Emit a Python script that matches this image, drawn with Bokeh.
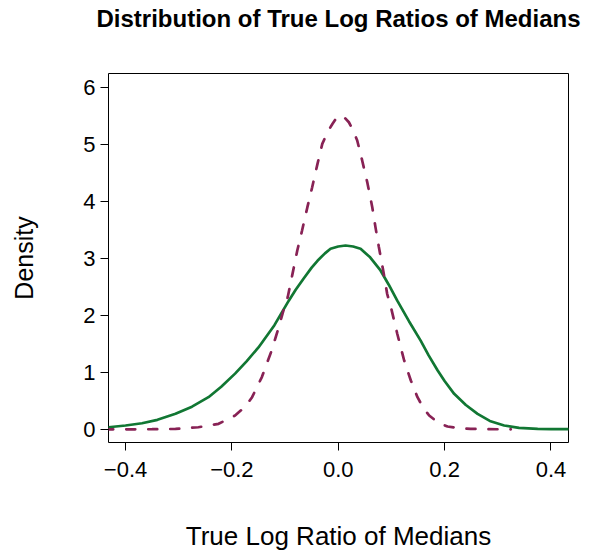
from bokeh.plotting import figure
from bokeh.models import Range1d, FixedTicker, Title
from bokeh.embed import file_html
from bokeh.resources import INLINE

# Solid green density
green_x = [-0.46, -0.432, -0.40, -0.369, -0.34, -0.306, -0.275, -0.244, -0.22, -0.194,
           -0.172, -0.150, -0.12, -0.093, -0.08, -0.065, -0.05, -0.039, -0.025, -0.0145,
           0.0, 0.0137, 0.028, 0.042, 0.06, 0.0795, 0.095, 0.111, 0.133, 0.155,
           0.17, 0.187, 0.2, 0.218, 0.24, 0.262, 0.285, 0.312, 0.34, 0.375,
           0.40, 0.433, 0.46]
green_y = [0.025, 0.04, 0.07, 0.11, 0.17, 0.275, 0.40, 0.567, 0.75, 0.98,
           1.20, 1.44, 1.83, 2.26, 2.45, 2.65, 2.84, 2.96, 3.09, 3.17,
           3.21, 3.228, 3.21, 3.17, 3.02, 2.79, 2.54, 2.26, 1.90, 1.56,
           1.30, 1.035, 0.85, 0.626, 0.43, 0.275, 0.15, 0.07, 0.03, 0.012,
           0.007, 0.005, 0.004]

# Dashed wine density
wine_x = [-0.44, -0.40, -0.35, -0.306, -0.263, -0.225, -0.194, -0.175, -0.162, -0.1436,
          -0.125, -0.112, -0.103, -0.095, -0.086, -0.077, -0.068, -0.058, -0.049, -0.039,
          -0.030, -0.020, -0.011, -0.003, 0.0043, 0.012, 0.02, 0.028, 0.0357, 0.045,
          0.0545, 0.064, 0.070, 0.0764, 0.0857, 0.092, 0.099, 0.111, 0.124, 0.1365,
          0.149, 0.16, 0.171, 0.188, 0.2055, 0.225, 0.249, 0.28, 0.3245]
wine_y = [0.003, 0.003, 0.005, 0.01, 0.04, 0.10, 0.245, 0.40, 0.567, 0.92,
          1.39, 1.79, 2.09, 2.32, 2.73, 3.14, 3.49, 3.90, 4.25, 4.66,
          5.01, 5.22, 5.36, 5.47, 5.51, 5.47, 5.39, 5.25, 5.07, 4.72,
          4.34, 3.90, 3.55, 3.20, 2.73, 2.38, 2.15, 1.68, 1.21, 0.86,
          0.567, 0.38, 0.245, 0.12, 0.053, 0.025, 0.012, 0.006, 0.003]

x_ticks = [-0.4, -0.2, 0.0, 0.2, 0.4]
x_tick_labels = ["\u22120.4", "\u22120.2", "0.0", "0.2", "0.4"]
y_ticks = [0, 1, 2, 3, 4, 5, 6]
title_text = "Distribution of True Log Ratios of Medians"

FONT = "Liberation Sans"

p = figure(width=586, height=536, frame_width=460, frame_height=369,
           min_border_left=108, min_border_right=18, min_border_top=73, min_border_bottom=94,
           x_range=Range1d(-0.432, 0.433), y_range=Range1d(-0.228, 6.245),
           output_backend="svg", toolbar_location=None)

# real title (outermost in the above panel)
p.title.text = title_text
p.title.align = "center"
p.title.vertical_align = "bottom"
p.title.standoff = 0
p.title.text_font = FONT
p.title.text_font_size = "24px"
p.title.text_font_style = "bold"
p.title.text_color = "black"

# invisible spacer between the title and the frame
spacer = Title(text=" ", standoff=13, text_font=FONT, text_font_size="24px")
p.add_layout(spacer, "above")

p.line(green_x, green_y, line_color="#117733", line_width=2.7)
p.line(wine_x, wine_y, line_color="#882255", line_width=2.7, line_dash="9 13", line_cap="round")

p.grid.visible = False
p.outline_line_color = "black"
p.outline_line_width = 1
p.outline_line_alpha = 1
p.background_fill_color = "white"
p.border_fill_color = "white"

for ax in (p.xaxis[0], p.yaxis[0]):
    ax.axis_line_color = None
    ax.major_tick_line_color = "black"
    ax.major_tick_in = 0
    ax.major_tick_out = 8
    ax.minor_tick_line_color = None
    ax.major_label_text_font = FONT
    ax.major_label_text_font_size = "22px"
    ax.major_label_text_color = "black"
    ax.axis_label_text_font = FONT
    ax.axis_label_text_font_style = "normal"
    ax.axis_label_text_color = "black"

p.xaxis.axis_label_text_font_size = "26px"
p.yaxis.axis_label_text_font_size = "25px"
p.xaxis.ticker = FixedTicker(ticks=x_ticks)
p.xaxis.major_label_overrides = {t: l for t, l in zip(x_ticks, x_tick_labels)}
p.yaxis.ticker = FixedTicker(ticks=y_ticks)
p.yaxis.major_label_orientation = "horizontal"
p.xaxis.major_label_standoff = 11
p.yaxis.major_label_standoff = 5
p.xaxis.axis_label = "True Log Ratio of Medians"
p.yaxis.axis_label = "Density"
p.xaxis.axis_label_standoff = 41
p.yaxis.axis_label_standoff = 42

open("out.html", "w").write(file_html(p, INLINE))
